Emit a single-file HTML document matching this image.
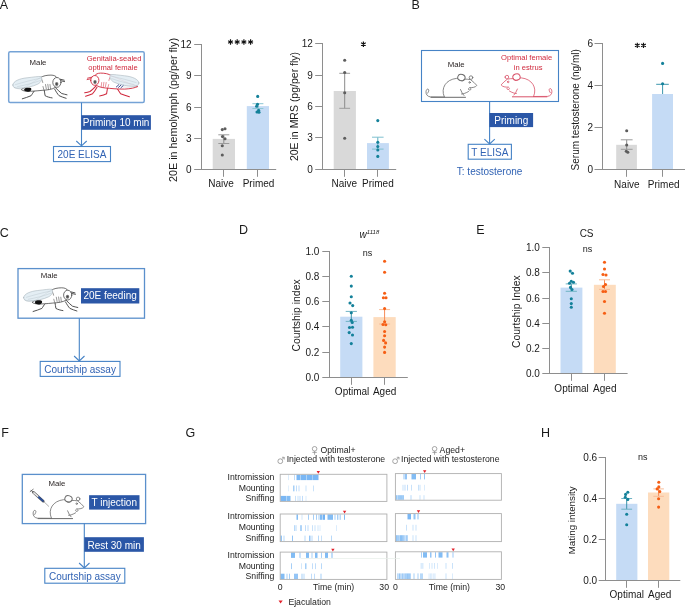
<!DOCTYPE html>
<html><head><meta charset="utf-8"><style>
html,body{margin:0;padding:0;background:#fff;}
body{width:685px;height:607px;overflow:hidden;}
svg{display:block;font-family:"Liberation Sans", sans-serif;will-change:transform;}
</style></head><body>
<svg width="685" height="607" viewBox="0 0 685 607">
<rect width="685" height="607" fill="#fff"/>
<text x="-0.3" y="8.6" font-size="12.5" text-anchor="start" fill="#1a1a1a" >A</text><text x="411.6" y="8.7" font-size="12.5" text-anchor="start" fill="#1a1a1a" >B</text><text x="-0.2" y="236.6" font-size="12.5" text-anchor="start" fill="#1a1a1a" >C</text><text x="238.9" y="233.7" font-size="12.5" text-anchor="start" fill="#1a1a1a" >D</text><text x="476.2" y="233.8" font-size="12.5" text-anchor="start" fill="#1a1a1a" >E</text><text x="1.2" y="437.1" font-size="12.5" text-anchor="start" fill="#1a1a1a" >F</text><text x="185.4" y="437.2" font-size="12.5" text-anchor="start" fill="#1a1a1a" >G</text><text x="541.1" y="437.1" font-size="12.5" text-anchor="start" fill="#1a1a1a" >H</text><rect x="212.7" y="138.9" width="22.3" height="30.5" fill="#d9d9d9" stroke="none" stroke-width="1" /><rect x="246.8" y="106.1" width="22.2" height="63.3" fill="#c5dbf5" stroke="none" stroke-width="1" /><line x1="201.5" y1="44" x2="201.5" y2="170" stroke="#8e8e8e" stroke-width="1.0" /><line x1="201" y1="169.5" x2="276.2" y2="169.5" stroke="#8e8e8e" stroke-width="1.0" /><line x1="194.2" y1="169.5" x2="201.5" y2="169.5" stroke="#8e8e8e" stroke-width="1.0" /><text x="191.6" y="172.9" font-size="10" text-anchor="end" fill="#1a1a1a" >0</text><line x1="194.2" y1="138.5" x2="201.5" y2="138.5" stroke="#8e8e8e" stroke-width="1.0" /><text x="191.6" y="141.7" font-size="10" text-anchor="end" fill="#1a1a1a" >3</text><line x1="194.2" y1="107.5" x2="201.5" y2="107.5" stroke="#8e8e8e" stroke-width="1.0" /><text x="191.6" y="110.5" font-size="10" text-anchor="end" fill="#1a1a1a" >6</text><line x1="194.2" y1="75.5" x2="201.5" y2="75.5" stroke="#8e8e8e" stroke-width="1.0" /><text x="191.6" y="79.3" font-size="10" text-anchor="end" fill="#1a1a1a" >9</text><line x1="194.2" y1="44.5" x2="201.5" y2="44.5" stroke="#8e8e8e" stroke-width="1.0" /><text x="191.6" y="48.1" font-size="10" text-anchor="end" fill="#1a1a1a" >12</text><line x1="223.5" y1="169.5" x2="223.5" y2="176.8" stroke="#8e8e8e" stroke-width="1.0" /><line x1="257.5" y1="169.5" x2="257.5" y2="176.8" stroke="#8e8e8e" stroke-width="1.0" /><text x="221" y="187.3" font-size="10" text-anchor="middle" fill="#1a1a1a" >Naive</text><text x="258.5" y="187.3" font-size="10" text-anchor="middle" fill="#1a1a1a" >Primed</text><text transform="translate(177,110) rotate(-90)" x="0" y="0" font-size="10.8" text-anchor="middle" fill="#1a1a1a">20E in hemolymph (pg/per fly)</text><line x1="223.8" y1="134.8" x2="223.8" y2="143.5" stroke="#8a8a8a" stroke-width="1.0" /><line x1="218.3" y1="134.8" x2="229.3" y2="134.8" stroke="#9a9a9a" stroke-width="1.0" /><line x1="218.3" y1="143.5" x2="229.3" y2="143.5" stroke="#9a9a9a" stroke-width="1.0" /><circle cx="222.3" cy="129.6" r="1.55" fill="#5d5d5d"/><circle cx="225" cy="128.7" r="1.55" fill="#5d5d5d"/><circle cx="222.5" cy="136.6" r="1.55" fill="#5d5d5d"/><circle cx="225" cy="138.8" r="1.55" fill="#5d5d5d"/><circle cx="222.3" cy="145.7" r="1.55" fill="#5d5d5d"/><circle cx="222.3" cy="155" r="1.55" fill="#5d5d5d"/><line x1="257.9" y1="103.7" x2="257.9" y2="108.5" stroke="#6fb6c6" stroke-width="1.0" /><line x1="252.4" y1="103.7" x2="263.4" y2="103.7" stroke="#8cc6d3" stroke-width="1.0" /><line x1="252.4" y1="108.5" x2="263.4" y2="108.5" stroke="#8cc6d3" stroke-width="1.0" /><circle cx="257.7" cy="96.4" r="1.55" fill="#14819a"/><circle cx="257.5" cy="104.2" r="1.55" fill="#14819a"/><circle cx="256.6" cy="106.2" r="1.55" fill="#14819a"/><circle cx="258.6" cy="110.2" r="1.55" fill="#14819a"/><circle cx="257" cy="112" r="1.55" fill="#14819a"/><circle cx="259" cy="112.3" r="1.55" fill="#14819a"/><path d="M230.5,39.3L230.5,44.7M228.16,40.65L232.84,43.35M232.84,40.65L228.16,43.35" stroke="#111" stroke-width="1.15" fill="none"/><path d="M237.2,39.3L237.2,44.7M234.86,40.65L239.54,43.35M239.54,40.65L234.86,43.35" stroke="#111" stroke-width="1.15" fill="none"/><path d="M243.9,39.3L243.9,44.7M241.56,40.65L246.24,43.35M246.24,40.65L241.56,43.35" stroke="#111" stroke-width="1.15" fill="none"/><path d="M250.6,39.3L250.6,44.7M248.26,40.65L252.94,43.35M252.94,40.65L248.26,43.35" stroke="#111" stroke-width="1.15" fill="none"/><rect x="333.7" y="91" width="22.2" height="78.3" fill="#d9d9d9" stroke="none" stroke-width="1" /><rect x="367" y="143.1" width="21.9" height="26.2" fill="#c5dbf5" stroke="none" stroke-width="1" /><line x1="322.5" y1="43" x2="322.5" y2="170" stroke="#8e8e8e" stroke-width="1.0" /><line x1="322" y1="169.5" x2="396.2" y2="169.5" stroke="#8e8e8e" stroke-width="1.0" /><line x1="315.2" y1="169.5" x2="322.5" y2="169.5" stroke="#8e8e8e" stroke-width="1.0" /><text x="312.9" y="172.8" font-size="10" text-anchor="end" fill="#1a1a1a" >0</text><line x1="315.2" y1="137.5" x2="322.5" y2="137.5" stroke="#8e8e8e" stroke-width="1.0" /><text x="312.9" y="141.4" font-size="10" text-anchor="end" fill="#1a1a1a" >3</text><line x1="315.2" y1="106.5" x2="322.5" y2="106.5" stroke="#8e8e8e" stroke-width="1.0" /><text x="312.9" y="110" font-size="10" text-anchor="end" fill="#1a1a1a" >6</text><line x1="315.2" y1="75.5" x2="322.5" y2="75.5" stroke="#8e8e8e" stroke-width="1.0" /><text x="312.9" y="78.6" font-size="10" text-anchor="end" fill="#1a1a1a" >9</text><line x1="315.2" y1="43.5" x2="322.5" y2="43.5" stroke="#8e8e8e" stroke-width="1.0" /><text x="312.9" y="47.2" font-size="10" text-anchor="end" fill="#1a1a1a" >12</text><line x1="344.5" y1="169.5" x2="344.5" y2="176.8" stroke="#8e8e8e" stroke-width="1.0" /><line x1="377.5" y1="169.5" x2="377.5" y2="176.8" stroke="#8e8e8e" stroke-width="1.0" /><text x="344.3" y="187.3" font-size="10" text-anchor="middle" fill="#1a1a1a" >Naive</text><text x="377.9" y="187.3" font-size="10" text-anchor="middle" fill="#1a1a1a" >Primed</text><text transform="translate(297.8,106.5) rotate(-90)" x="0" y="0" font-size="10.5" text-anchor="middle" fill="#1a1a1a">20E in MRS (pg/per fly)</text><line x1="344.7" y1="73.3" x2="344.7" y2="108.3" stroke="#8a8a8a" stroke-width="1.0" /><line x1="339.3" y1="73.3" x2="350.1" y2="73.3" stroke="#9a9a9a" stroke-width="1.0" /><line x1="339.3" y1="108.3" x2="350.1" y2="108.3" stroke="#9a9a9a" stroke-width="1.0" /><circle cx="344.7" cy="60.2" r="1.55" fill="#5d5d5d"/><circle cx="344.7" cy="72.5" r="1.55" fill="#5d5d5d"/><circle cx="344.7" cy="92.8" r="1.55" fill="#5d5d5d"/><circle cx="344.7" cy="138.3" r="1.55" fill="#5d5d5d"/><line x1="377.8" y1="137.2" x2="377.8" y2="149.1" stroke="#5aaec0" stroke-width="1.0" /><line x1="372" y1="137.2" x2="383.6" y2="137.2" stroke="#7fc0cf" stroke-width="1.0" /><line x1="372" y1="149.1" x2="383.6" y2="149.1" stroke="#7fc0cf" stroke-width="1.0" /><circle cx="377.8" cy="120.6" r="1.55" fill="#14819a"/><circle cx="377.8" cy="142.3" r="1.55" fill="#14819a"/><circle cx="377.8" cy="146.5" r="1.55" fill="#14819a"/><circle cx="377.8" cy="150" r="1.55" fill="#14819a"/><circle cx="377.8" cy="156.4" r="1.55" fill="#14819a"/><path d="M363.4,41.5L363.4,46.9M361.06,42.85L365.74,45.55M365.74,42.85L361.06,45.55" stroke="#111" stroke-width="1.15" fill="none"/><rect x="616.2" y="144.8" width="20.7" height="24.6" fill="#d9d9d9" stroke="none" stroke-width="1" /><rect x="652.1" y="94" width="20.9" height="75.4" fill="#c5dbf5" stroke="none" stroke-width="1" /><line x1="602.5" y1="43" x2="602.5" y2="170" stroke="#8e8e8e" stroke-width="1.0" /><line x1="602" y1="169.5" x2="685" y2="169.5" stroke="#8e8e8e" stroke-width="1.0" /><line x1="594.5" y1="169.5" x2="602.5" y2="169.5" stroke="#8e8e8e" stroke-width="1.0" /><text x="593" y="172.9" font-size="10" text-anchor="end" fill="#1a1a1a" >0</text><line x1="594.5" y1="127.5" x2="602.5" y2="127.5" stroke="#8e8e8e" stroke-width="1.0" /><text x="593" y="131" font-size="10" text-anchor="end" fill="#1a1a1a" >2</text><line x1="594.5" y1="85.5" x2="602.5" y2="85.5" stroke="#8e8e8e" stroke-width="1.0" /><text x="593" y="89.1" font-size="10" text-anchor="end" fill="#1a1a1a" >4</text><line x1="594.5" y1="43.5" x2="602.5" y2="43.5" stroke="#8e8e8e" stroke-width="1.0" /><text x="593" y="47.2" font-size="10" text-anchor="end" fill="#1a1a1a" >6</text><line x1="626.5" y1="169.5" x2="626.5" y2="176.8" stroke="#8e8e8e" stroke-width="1.0" /><line x1="662.5" y1="169.5" x2="662.5" y2="176.8" stroke="#8e8e8e" stroke-width="1.0" /><text x="626.9" y="187.6" font-size="10" text-anchor="middle" fill="#1a1a1a" >Naive</text><text x="663.7" y="187.6" font-size="10" text-anchor="middle" fill="#1a1a1a" >Primed</text><text transform="translate(579,109.8) rotate(-90)" x="0" y="0" font-size="10.0" text-anchor="middle" fill="#1a1a1a">Serum testosterone (ng/ml)</text><line x1="626.7" y1="139.8" x2="626.7" y2="149.3" stroke="#8a8a8a" stroke-width="1.0" /><line x1="620.8" y1="139.8" x2="632.6" y2="139.8" stroke="#9a9a9a" stroke-width="1.0" /><line x1="620.8" y1="149.3" x2="632.6" y2="149.3" stroke="#9a9a9a" stroke-width="1.0" /><circle cx="626.7" cy="130.8" r="1.55" fill="#5d5d5d"/><circle cx="626.7" cy="145" r="1.55" fill="#5d5d5d"/><circle cx="626.3" cy="151.3" r="1.55" fill="#5d5d5d"/><circle cx="627.8" cy="152.3" r="1.55" fill="#5d5d5d"/><line x1="662.6" y1="84.3" x2="662.6" y2="94" stroke="#3d97ad" stroke-width="1.0" /><line x1="656.2" y1="84.3" x2="668.8" y2="84.3" stroke="#3d97ad" stroke-width="1.0" /><circle cx="662.6" cy="63.4" r="1.55" fill="#14819a"/><circle cx="662.6" cy="83.8" r="1.55" fill="#14819a"/><path d="M637.3,42.7L637.3,48.1M634.96,44.05L639.64,46.75M639.64,44.05L634.96,46.75" stroke="#111" stroke-width="1.15" fill="none"/><path d="M643.5,42.7L643.5,48.1M641.16,44.05L645.84,46.75M645.84,44.05L641.16,46.75" stroke="#111" stroke-width="1.15" fill="none"/><rect x="340.2" y="316.7" width="22.2" height="60.4" fill="#c5dbf5" stroke="none" stroke-width="1" /><rect x="373.4" y="317.1" width="22.3" height="60" fill="#fddcbd" stroke="none" stroke-width="1" /><line x1="329.5" y1="251" x2="329.5" y2="378" stroke="#8e8e8e" stroke-width="1.0" /><line x1="329" y1="377.5" x2="407.8" y2="377.5" stroke="#8e8e8e" stroke-width="1.0" /><line x1="322.3" y1="377.5" x2="329.5" y2="377.5" stroke="#8e8e8e" stroke-width="1.0" /><text x="319.3" y="380.6" font-size="10" text-anchor="end" fill="#1a1a1a" >0.0</text><line x1="322.3" y1="352.5" x2="329.5" y2="352.5" stroke="#8e8e8e" stroke-width="1.0" /><text x="319.3" y="355.52" font-size="10" text-anchor="end" fill="#1a1a1a" >0.2</text><line x1="322.3" y1="326.5" x2="329.5" y2="326.5" stroke="#8e8e8e" stroke-width="1.0" /><text x="319.3" y="330.44" font-size="10" text-anchor="end" fill="#1a1a1a" >0.4</text><line x1="322.3" y1="301.5" x2="329.5" y2="301.5" stroke="#8e8e8e" stroke-width="1.0" /><text x="319.3" y="305.36" font-size="10" text-anchor="end" fill="#1a1a1a" >0.6</text><line x1="322.3" y1="276.5" x2="329.5" y2="276.5" stroke="#8e8e8e" stroke-width="1.0" /><text x="319.3" y="280.28" font-size="10" text-anchor="end" fill="#1a1a1a" >0.8</text><line x1="322.3" y1="251.5" x2="329.5" y2="251.5" stroke="#8e8e8e" stroke-width="1.0" /><text x="319.3" y="255.2" font-size="10" text-anchor="end" fill="#1a1a1a" >1.0</text><line x1="351.5" y1="377.5" x2="351.5" y2="384.8" stroke="#8e8e8e" stroke-width="1.0" /><line x1="384.5" y1="377.5" x2="384.5" y2="384.8" stroke="#8e8e8e" stroke-width="1.0" /><text x="352.1" y="394.7" font-size="10" text-anchor="middle" fill="#1a1a1a" >Optimal</text><text x="384.6" y="394.7" font-size="10" text-anchor="middle" fill="#1a1a1a" >Aged</text><text transform="translate(300.2,315.5) rotate(-90)" x="0" y="0" font-size="10.4" text-anchor="middle" fill="#1a1a1a">Courtship index</text><line x1="351.3" y1="311.4" x2="351.3" y2="321.4" stroke="#3a93aa" stroke-width="1.0" /><line x1="345.7" y1="311.4" x2="356.9" y2="311.4" stroke="#6fb3c4" stroke-width="1.0" /><line x1="345.7" y1="321.4" x2="356.9" y2="321.4" stroke="#6fb3c4" stroke-width="1.0" /><circle cx="351.3" cy="276.2" r="1.55" fill="#14819a"/><circle cx="351.3" cy="286.1" r="1.55" fill="#14819a"/><circle cx="351.3" cy="296.8" r="1.55" fill="#14819a"/><circle cx="350" cy="303" r="1.55" fill="#14819a"/><circle cx="352.7" cy="305.6" r="1.55" fill="#14819a"/><circle cx="351.3" cy="312.8" r="1.55" fill="#14819a"/><circle cx="351.3" cy="320.3" r="1.55" fill="#14819a"/><circle cx="352.2" cy="322.5" r="1.55" fill="#14819a"/><circle cx="349.5" cy="327.5" r="1.55" fill="#14819a"/><circle cx="352.5" cy="327.2" r="1.55" fill="#14819a"/><circle cx="349.2" cy="332.6" r="1.55" fill="#14819a"/><circle cx="352.5" cy="335" r="1.55" fill="#14819a"/><circle cx="351.3" cy="343.6" r="1.55" fill="#14819a"/><line x1="384.6" y1="309.6" x2="384.6" y2="324" stroke="#f68a55" stroke-width="1.0" /><line x1="379.1" y1="309.6" x2="390.1" y2="309.6" stroke="#f9bc98" stroke-width="1.0" /><line x1="379.1" y1="324" x2="390.1" y2="324" stroke="#f9bc98" stroke-width="1.0" /><circle cx="384.6" cy="261.3" r="1.55" fill="#f65e14"/><circle cx="384.6" cy="272.3" r="1.55" fill="#f65e14"/><circle cx="384.6" cy="293.3" r="1.55" fill="#f65e14"/><circle cx="383.4" cy="297.7" r="1.55" fill="#f65e14"/><circle cx="386" cy="297.7" r="1.55" fill="#f65e14"/><circle cx="384.6" cy="308.6" r="1.55" fill="#f65e14"/><circle cx="384.6" cy="321.8" r="1.55" fill="#f65e14"/><circle cx="383" cy="324.5" r="1.55" fill="#f65e14"/><circle cx="385.8" cy="324.7" r="1.55" fill="#f65e14"/><circle cx="384.6" cy="331.5" r="1.55" fill="#f65e14"/><circle cx="384.6" cy="335.8" r="1.55" fill="#f65e14"/><circle cx="383.6" cy="340.4" r="1.55" fill="#f65e14"/><circle cx="385.6" cy="342.9" r="1.55" fill="#f65e14"/><circle cx="384.6" cy="347.1" r="1.55" fill="#f65e14"/><circle cx="384.6" cy="352.4" r="1.55" fill="#f65e14"/><text x="359.6" y="237.6" font-size="10" font-style="italic" fill="#1a1a1a">w<tspan font-size="6" dy="-3.6">1118</tspan></text><text x="367.5" y="255.6" font-size="9" text-anchor="middle" fill="#1a1a1a" >ns</text><rect x="560.5" y="287.6" width="21.9" height="86.1" fill="#c5dbf5" stroke="none" stroke-width="1" /><rect x="593.9" y="284.8" width="21.9" height="88.9" fill="#fddcbd" stroke="none" stroke-width="1" /><line x1="549.5" y1="247" x2="549.5" y2="374" stroke="#8e8e8e" stroke-width="1.0" /><line x1="549" y1="373.5" x2="627.6" y2="373.5" stroke="#8e8e8e" stroke-width="1.0" /><line x1="542.3" y1="373.5" x2="549.5" y2="373.5" stroke="#8e8e8e" stroke-width="1.0" /><text x="539.8" y="377.2" font-size="10" text-anchor="end" fill="#1a1a1a" >0.0</text><line x1="542.3" y1="348.5" x2="549.5" y2="348.5" stroke="#8e8e8e" stroke-width="1.0" /><text x="539.8" y="352.02" font-size="10" text-anchor="end" fill="#1a1a1a" >0.2</text><line x1="542.3" y1="323.5" x2="549.5" y2="323.5" stroke="#8e8e8e" stroke-width="1.0" /><text x="539.8" y="326.84" font-size="10" text-anchor="end" fill="#1a1a1a" >0.4</text><line x1="542.3" y1="298.5" x2="549.5" y2="298.5" stroke="#8e8e8e" stroke-width="1.0" /><text x="539.8" y="301.66" font-size="10" text-anchor="end" fill="#1a1a1a" >0.6</text><line x1="542.3" y1="272.5" x2="549.5" y2="272.5" stroke="#8e8e8e" stroke-width="1.0" /><text x="539.8" y="276.48" font-size="10" text-anchor="end" fill="#1a1a1a" >0.8</text><line x1="542.3" y1="247.5" x2="549.5" y2="247.5" stroke="#8e8e8e" stroke-width="1.0" /><text x="539.8" y="251.3" font-size="10" text-anchor="end" fill="#1a1a1a" >1.0</text><line x1="571.5" y1="373.5" x2="571.5" y2="380.8" stroke="#8e8e8e" stroke-width="1.0" /><line x1="604.5" y1="373.5" x2="604.5" y2="380.8" stroke="#8e8e8e" stroke-width="1.0" /><text x="571.6" y="391.7" font-size="10" text-anchor="middle" fill="#1a1a1a" >Optimal</text><text x="604.8" y="391.7" font-size="10" text-anchor="middle" fill="#1a1a1a" >Aged</text><text transform="translate(520.3,311.6) rotate(-90)" x="0" y="0" font-size="10.4" text-anchor="middle" fill="#1a1a1a">Courtship Index</text><line x1="571.3" y1="283.9" x2="571.3" y2="291.3" stroke="#3a93aa" stroke-width="1.0" /><line x1="565.7" y1="283.9" x2="576.9" y2="283.9" stroke="#6fb3c4" stroke-width="1.0" /><line x1="565.7" y1="291.3" x2="576.9" y2="291.3" stroke="#6fb3c4" stroke-width="1.0" /><circle cx="570.2" cy="271.1" r="1.55" fill="#14819a"/><circle cx="572.5" cy="273.3" r="1.55" fill="#14819a"/><circle cx="571.3" cy="281.2" r="1.55" fill="#14819a"/><circle cx="569.5" cy="283.3" r="1.55" fill="#14819a"/><circle cx="573.5" cy="282.3" r="1.55" fill="#14819a"/><circle cx="570.5" cy="287.4" r="1.55" fill="#14819a"/><circle cx="572" cy="289.5" r="1.55" fill="#14819a"/><circle cx="571.3" cy="298.8" r="1.55" fill="#14819a"/><circle cx="571.3" cy="303.6" r="1.55" fill="#14819a"/><circle cx="571.3" cy="307.3" r="1.55" fill="#14819a"/><line x1="604.5" y1="279.8" x2="604.5" y2="289.4" stroke="#f68a55" stroke-width="1.0" /><line x1="599" y1="279.8" x2="610" y2="279.8" stroke="#f9bc98" stroke-width="1.0" /><line x1="599" y1="289.4" x2="610" y2="289.4" stroke="#f9bc98" stroke-width="1.0" /><circle cx="604.5" cy="262.3" r="1.55" fill="#f65e14"/><circle cx="604.5" cy="269" r="1.55" fill="#f65e14"/><circle cx="603" cy="274.5" r="1.55" fill="#f65e14"/><circle cx="606" cy="275" r="1.55" fill="#f65e14"/><circle cx="605.5" cy="284.5" r="1.55" fill="#f65e14"/><circle cx="603.5" cy="286.5" r="1.55" fill="#f65e14"/><circle cx="603" cy="291.5" r="1.55" fill="#f65e14"/><circle cx="605.5" cy="291.5" r="1.55" fill="#f65e14"/><circle cx="604.5" cy="301.5" r="1.55" fill="#f65e14"/><circle cx="604.5" cy="313.3" r="1.55" fill="#f65e14"/><text x="586.6" y="236.9" font-size="10" text-anchor="middle" fill="#1a1a1a" >CS</text><text x="587.6" y="252.4" font-size="9" text-anchor="middle" fill="#1a1a1a" >ns</text><rect x="616.2" y="503.8" width="21.2" height="76.5" fill="#c5dbf5" stroke="none" stroke-width="1" /><rect x="648" y="492.5" width="21.3" height="87.8" fill="#fddcbd" stroke="none" stroke-width="1" /><line x1="605.5" y1="457" x2="605.5" y2="581" stroke="#8e8e8e" stroke-width="1.0" /><line x1="605" y1="580.5" x2="680.3" y2="580.5" stroke="#8e8e8e" stroke-width="1.0" /><line x1="598.7" y1="580.5" x2="605.5" y2="580.5" stroke="#8e8e8e" stroke-width="1.0" /><text x="597.2" y="583.8" font-size="10" text-anchor="end" fill="#1a1a1a" >0.0</text><line x1="598.7" y1="539.5" x2="605.5" y2="539.5" stroke="#8e8e8e" stroke-width="1.0" /><text x="597.2" y="542.73" font-size="10" text-anchor="end" fill="#1a1a1a" >0.2</text><line x1="598.7" y1="498.5" x2="605.5" y2="498.5" stroke="#8e8e8e" stroke-width="1.0" /><text x="597.2" y="501.66" font-size="10" text-anchor="end" fill="#1a1a1a" >0.4</text><line x1="598.7" y1="457.5" x2="605.5" y2="457.5" stroke="#8e8e8e" stroke-width="1.0" /><text x="597.2" y="460.59" font-size="10" text-anchor="end" fill="#1a1a1a" >0.6</text><line x1="626.5" y1="580.5" x2="626.5" y2="587.8" stroke="#8e8e8e" stroke-width="1.0" /><line x1="658.5" y1="580.5" x2="658.5" y2="587.8" stroke="#8e8e8e" stroke-width="1.0" /><text x="626.8" y="597.8" font-size="10" text-anchor="middle" fill="#1a1a1a" >Optimal</text><text x="659.7" y="597.8" font-size="10" text-anchor="middle" fill="#1a1a1a" >Aged</text><text transform="translate(575.4,520.3) rotate(-90)" x="0" y="0" font-size="9.8" text-anchor="middle" fill="#1a1a1a">Mating intensity</text><line x1="626.7" y1="498.5" x2="626.7" y2="509.2" stroke="#3a93aa" stroke-width="1.0" /><line x1="621.3" y1="498.5" x2="632.1" y2="498.5" stroke="#6fb3c4" stroke-width="1.0" /><line x1="621.3" y1="509.2" x2="632.1" y2="509.2" stroke="#6fb3c4" stroke-width="1.0" /><circle cx="627.8" cy="492.3" r="1.55" fill="#14819a"/><circle cx="625.6" cy="494.4" r="1.55" fill="#14819a"/><circle cx="625.3" cy="497.3" r="1.55" fill="#14819a"/><circle cx="627.8" cy="499.4" r="1.55" fill="#14819a"/><circle cx="626.7" cy="514.3" r="1.55" fill="#14819a"/><circle cx="626.7" cy="524.7" r="1.55" fill="#14819a"/><line x1="658.6" y1="488.9" x2="658.6" y2="496.3" stroke="#f68a55" stroke-width="1.0" /><line x1="653.3" y1="488.9" x2="663.9" y2="488.9" stroke="#f9bc98" stroke-width="1.0" /><line x1="653.3" y1="496.3" x2="663.9" y2="496.3" stroke="#f9bc98" stroke-width="1.0" /><circle cx="658.8" cy="482.3" r="1.55" fill="#f65e14"/><circle cx="658.8" cy="486.9" r="1.55" fill="#f65e14"/><circle cx="657.2" cy="488.9" r="1.55" fill="#f65e14"/><circle cx="659.8" cy="491.6" r="1.55" fill="#f65e14"/><circle cx="658.6" cy="498.8" r="1.55" fill="#f65e14"/><circle cx="658.6" cy="507.1" r="1.55" fill="#f65e14"/><text x="642.7" y="460.3" font-size="9" text-anchor="middle" fill="#1a1a1a" >ns</text><rect x="8.7" y="51.8" width="135.5" height="50.8" fill="none" stroke="#75a3d6" stroke-width="1.5" rx="1.5"/><g transform="translate(0,0)" fill="none" stroke-linecap="round" stroke-linejoin="round"><path d="M34.6,90.5 C33,92.5 32,94.5 31.1,95.7 C28,97 25,98 22.3,98.8 M44.2,90 C44.5,92 44.8,94 45.1,95.7 C47,96.8 49.5,97.5 52.1,97.9 M54.7,89.2 C56,91.5 57.5,94 59.1,95.7 C61.5,96.8 63.8,97.6 66.1,98.3 M55.6,87.8 C57.5,89.8 59.5,91.8 61.7,93.5 C63.5,94 65.2,94.4 67,94.8" stroke="#333" stroke-width="0.85"/><path d="M40.3,77.6 C43,75.8 47,75.1 51,75.1 C54,75.2 56,76 57,77.8 L57,86 C55,88.2 51,89.6 46,90 C41,90.4 35,91.2 29,91.3 C25,91.3 22.5,90.8 21.5,89.8 Z" fill="#fff" stroke="#333" stroke-width="0.7"/><path d="M40.3,77.6 C41.5,78.8 42.5,80.5 42.8,82.5 M45.5,84.5 L46.3,88.8 M47.8,84.3 L48.5,89.2 M50,84.5 L50.5,88.6 M43,86.5 L43.8,89.5" stroke="#333" stroke-width="0.5"/><path d="M12.8,85 C13,81 20,78.5 27,77.8 C33,77.2 38.5,76.1 41.3,76.6 C42.6,79.2 41.2,82.2 38,84 C33,86.5 25,88.3 18,88.3 C14.5,88.2 12.8,87 12.8,85 Z" fill="#e2edf3" fill-opacity="0.92" stroke="#a4b0b8" stroke-width="0.55"/><path d="M14,87.6 C17,89.2 23,89.6 29,88.9 M15.5,84.6 C23,82.3 31,80.2 40.5,78.2 M17.5,86.6 C25,85.2 33,83.2 40,80.6" stroke="#b3c0c8" stroke-width="0.4"/><path d="M24.2,89 C25,87.6 28.5,87.3 30.8,88 C31.8,88.8 31.4,90.8 29.5,91.5 C27.5,92.1 25,91.6 24.3,90.6 Z" fill="#111" stroke="none"/><ellipse cx="56.9" cy="82.4" rx="4.1" ry="4.9" fill="#fff" stroke="#333" stroke-width="0.7"/><ellipse cx="56.7" cy="84" rx="1.7" ry="2.0" fill="#7a7a7a" stroke="none"/><ellipse cx="56.7" cy="84" rx="0.8" ry="0.9" fill="#444" stroke="none"/><path d="M60.2,79.2 L64.2,80.2 M61,80.8 L64.6,81.6" stroke="#333" stroke-width="0.85"/></g><g transform="translate(151.7,-2) scale(-1,1)" fill="none" stroke-linecap="round" stroke-linejoin="round"><path d="M34.6,90.5 C33,92.5 32,94.5 31.1,95.7 C28,97 25,98 22.3,98.8 M44.2,90 C44.5,92 44.8,94 45.1,95.7 C47,96.8 49.5,97.5 52.1,97.9 M54.7,89.2 C56,91.5 57.5,94 59.1,95.7 C61.5,96.8 63.8,97.6 66.1,98.3 M55.6,87.8 C57.5,89.8 59.5,91.8 61.7,93.5 C63.5,94 65.2,94.4 67,94.8" stroke="#d0293d" stroke-width="1.05"/><path d="M40.3,77.6 C43,75.8 47,75.1 51,75.1 C54,75.2 56,76 57,77.8 L57,86 C55,88.2 51,89.6 46,90 C41,90.4 35,91.2 27,91.1 C21,90.8 17,89.8 14,88.6 L20,86.5 Z" fill="#fff" stroke="#d0293d" stroke-width="0.9"/><path d="M40.3,77.6 C41.5,78.8 42.5,80.5 42.8,82.5 M45.5,84.5 L46.3,88.8 M47.8,84.3 L48.5,89.2 M50,84.5 L50.5,88.6 M43,86.5 L43.8,89.5" stroke="#d0293d" stroke-width="0.5"/><path d="M12.8,85 C13,81 20,78.5 27,77.8 C33,77.2 38.5,76.1 41.3,76.6 C42.6,79.2 41.2,82.2 38,84 C33,86.5 25,88.3 18,88.3 C14.5,88.2 12.8,87 12.8,85 Z" fill="#e2edf3" fill-opacity="0.92" stroke="#a4b0b8" stroke-width="0.55"/><path d="M14,87.6 C17,89.2 23,89.6 29,88.9 M15.5,84.6 C23,82.3 31,80.2 40.5,78.2 M17.5,86.6 C25,85.2 33,83.2 40,80.6" stroke="#b3c0c8" stroke-width="0.4"/><path d="M28.5,87.6 L30.8,89.8 M30.8,87.2 L33.2,89.4 M33,86.8 L35.4,89" stroke="#2b3f8a" stroke-width="0.9"/><ellipse cx="56.9" cy="82.4" rx="4.1" ry="4.9" fill="#fff" stroke="#d0293d" stroke-width="0.9"/><ellipse cx="56.7" cy="84" rx="1.7" ry="2.0" fill="#7a7a7a" stroke="none"/><ellipse cx="56.7" cy="84" rx="0.8" ry="0.9" fill="#444" stroke="none"/><path d="M60.2,79.2 L64.2,80.2 M61,80.8 L64.6,81.6" stroke="#d0293d" stroke-width="0.85"/></g><text x="38" y="64.6" font-size="7.8" text-anchor="middle" fill="#2b2525" >Male</text><text x="114.1" y="61" font-size="7.6" text-anchor="middle" fill="#d0293d" >Genitalia-sealed</text><text x="113" y="70.2" font-size="7.6" text-anchor="middle" fill="#d0293d" >optimal female</text><line x1="81.5" y1="102.6" x2="81.5" y2="145.6" stroke="#4683c6" stroke-width="1.1" /><path d="M76.3,141 L81.5,145.8 L86.7,141" fill="none" stroke="#4683c6" stroke-width="1.1"/><rect x="81.3" y="115.2" width="69.6" height="14.6" fill="#2b57a7" stroke="none" stroke-width="1" /><text x="116.1" y="126" font-size="10" text-anchor="middle" fill="#fff" >Priming 10 min</text><rect x="53.5" y="146.5" width="57" height="15.1" fill="#fff" stroke="#4683c6" stroke-width="1.1" /><text x="82" y="157.9" font-size="10" text-anchor="middle" fill="#3163b4" >20E ELISA</text><rect x="421.5" y="50.5" width="137" height="51" fill="none" stroke="#4683c6" stroke-width="1.1" /><g transform="translate(0,0)" fill="none" stroke="#6b6b6b" stroke-width="0.8" stroke-linecap="round" stroke-linejoin="round"><path d="M444.2,96.6 C440.5,88 446,79.5 456.5,78.4 C458.5,78.2 460.5,78.8 462,79.6"/><path d="M463.5,79.2 C466,79.2 468.5,79 470.5,79.6 C472.8,81.3 475,83.3 476.8,85.4 C475.5,87.3 472.5,87.8 469.5,87.6 C468.5,88.3 468,89.3 469,90 C470.5,90.3 471.5,89.5 470.8,88.5"/><ellipse cx="461.4" cy="77.6" rx="3.7" ry="3.2" transform="rotate(20 461.4 77.6)" fill="#fff" stroke-width="1.0"/><path d="M459.5,80.2 C461.5,81.2 463.8,80.6 464.6,79"/><circle cx="471" cy="77.6" r="1.8" fill="#fff"/><circle cx="469.6" cy="82.4" r="0.75"/><path d="M460.5,89.5 L462.3,93.3 L464,95.5 M461.5,94 C463.5,94 466,93 468.5,91.5"/><path d="M444.5,97 L430.5,96.9 C427.5,96.6 425.8,94.5 426,91.7 C426.2,89.6 427.3,88.6 428.3,89.3 C429.5,90.2 428.2,92.3 427.6,93.2"/><path d="M431,97.3 L465.5,97.3" stroke-width="1.0"/></g><g transform="translate(977.9,-0.5) scale(-1,1)" fill="none" stroke="#d9536a" stroke-width="0.8" stroke-linecap="round" stroke-linejoin="round"><path d="M444.2,96.6 C440.5,88 446,79.5 456.5,78.4 C458.5,78.2 460.5,78.8 462,79.6"/><path d="M463.5,79.2 C466,79.2 468.5,79 470.5,79.6 C472.8,81.3 475,83.3 476.8,85.4 C475.5,87.3 472.5,87.8 469.5,87.6 C468.5,88.3 468,89.3 469,90 C470.5,90.3 471.5,89.5 470.8,88.5"/><ellipse cx="461.4" cy="77.6" rx="3.7" ry="3.2" transform="rotate(20 461.4 77.6)" fill="#fff" stroke-width="1.0"/><path d="M459.5,80.2 C461.5,81.2 463.8,80.6 464.6,79"/><circle cx="471" cy="77.6" r="1.8" fill="#fff"/><circle cx="469.6" cy="82.4" r="0.75"/><path d="M460.5,89.5 L462.3,93.3 L464,95.5 M461.5,94 C463.5,94 466,93 468.5,91.5"/><path d="M444.5,97 L430.5,96.9 C427.5,96.6 425.8,94.5 426,91.7 C426.2,89.6 427.3,88.6 428.3,89.3 C429.5,90.2 428.2,92.3 427.6,93.2"/><path d="M431,97.3 L465.5,97.3" stroke-width="1.0"/></g><text x="456.1" y="66.9" font-size="7.8" text-anchor="middle" fill="#2b2525" >Male</text><text x="526.6" y="60.4" font-size="7.6" text-anchor="middle" fill="#d0293d" >Optimal female</text><text x="528.1" y="69.5" font-size="7.6" text-anchor="middle" fill="#d0293d" >in estrus</text><line x1="489.6" y1="101" x2="489.6" y2="143.8" stroke="#4683c6" stroke-width="1.1" /><path d="M484.4,139.2 L489.6,144 L494.8,139.2" fill="none" stroke="#4683c6" stroke-width="1.1"/><rect x="489.4" y="113" width="43.7" height="14.1" fill="#2b57a7" stroke="none" stroke-width="1" /><text x="511.3" y="123.7" font-size="10" text-anchor="middle" fill="#fff" >Priming</text><rect x="468.2" y="144.3" width="43.2" height="14.9" fill="#fff" stroke="#4683c6" stroke-width="1.1" /><text x="489.8" y="155.5" font-size="10" text-anchor="middle" fill="#3163b4" >T ELISA</text><text x="489.6" y="175" font-size="10" text-anchor="middle" fill="#3163b4" >T: testosterone</text><rect x="18" y="268.6" width="126.5" height="49.6" fill="none" stroke="#5b90cc" stroke-width="1.3" /><g transform="translate(10.8,212.7)" fill="none" stroke-linecap="round" stroke-linejoin="round"><path d="M34.6,90.5 C33,92.5 32,94.5 31.1,95.7 C28,97 25,98 22.3,98.8 M44.2,90 C44.5,92 44.8,94 45.1,95.7 C47,96.8 49.5,97.5 52.1,97.9 M54.7,89.2 C56,91.5 57.5,94 59.1,95.7 C61.5,96.8 63.8,97.6 66.1,98.3 M55.6,87.8 C57.5,89.8 59.5,91.8 61.7,93.5 C63.5,94 65.2,94.4 67,94.8" stroke="#333" stroke-width="0.85"/><path d="M40.3,77.6 C43,75.8 47,75.1 51,75.1 C54,75.2 56,76 57,77.8 L57,86 C55,88.2 51,89.6 46,90 C41,90.4 35,91.2 29,91.3 C25,91.3 22.5,90.8 21.5,89.8 Z" fill="#fff" stroke="#333" stroke-width="0.7"/><path d="M40.3,77.6 C41.5,78.8 42.5,80.5 42.8,82.5 M45.5,84.5 L46.3,88.8 M47.8,84.3 L48.5,89.2 M50,84.5 L50.5,88.6 M43,86.5 L43.8,89.5" stroke="#333" stroke-width="0.5"/><path d="M12.8,85 C13,81 20,78.5 27,77.8 C33,77.2 38.5,76.1 41.3,76.6 C42.6,79.2 41.2,82.2 38,84 C33,86.5 25,88.3 18,88.3 C14.5,88.2 12.8,87 12.8,85 Z" fill="#e2edf3" fill-opacity="0.92" stroke="#a4b0b8" stroke-width="0.55"/><path d="M14,87.6 C17,89.2 23,89.6 29,88.9 M15.5,84.6 C23,82.3 31,80.2 40.5,78.2 M17.5,86.6 C25,85.2 33,83.2 40,80.6" stroke="#b3c0c8" stroke-width="0.4"/><path d="M24.2,89 C25,87.6 28.5,87.3 30.8,88 C31.8,88.8 31.4,90.8 29.5,91.5 C27.5,92.1 25,91.6 24.3,90.6 Z" fill="#111" stroke="none"/><ellipse cx="56.9" cy="82.4" rx="4.1" ry="4.9" fill="#fff" stroke="#333" stroke-width="0.7"/><ellipse cx="56.7" cy="84" rx="1.7" ry="2.0" fill="#7a7a7a" stroke="none"/><ellipse cx="56.7" cy="84" rx="0.8" ry="0.9" fill="#444" stroke="none"/><path d="M60.2,79.2 L64.2,80.2 M61,80.8 L64.6,81.6" stroke="#333" stroke-width="0.85"/></g><text x="49.2" y="278.1" font-size="7.8" text-anchor="middle" fill="#2b2525" >Male</text><rect x="81" y="288.2" width="58.3" height="15.3" fill="#2b57a7" stroke="none" stroke-width="1" /><text x="110.1" y="299.4" font-size="10" text-anchor="middle" fill="#fff" >20E feeding</text><line x1="79.3" y1="318.2" x2="79.3" y2="361" stroke="#4683c6" stroke-width="1.1" /><path d="M74.1,356 L79.3,361 L84.5,356" fill="none" stroke="#4683c6" stroke-width="1.1"/><rect x="40.2" y="361.4" width="79.8" height="15" fill="#fff" stroke="#4683c6" stroke-width="1.1" /><text x="80.1" y="372.6" font-size="10" text-anchor="middle" fill="#3163b4" >Courtship assay</text><rect x="22.3" y="474.4" width="123.3" height="49.2" fill="none" stroke="#5b90cc" stroke-width="1.3" /><g transform="translate(-392.9,421.3)" fill="none" stroke="#6b6b6b" stroke-width="0.8" stroke-linecap="round" stroke-linejoin="round"><path d="M444.2,96.6 C440.5,88 446,79.5 456.5,78.4 C458.5,78.2 460.5,78.8 462,79.6"/><path d="M463.5,79.2 C466,79.2 468.5,79 470.5,79.6 C472.8,81.3 475,83.3 476.8,85.4 C475.5,87.3 472.5,87.8 469.5,87.6 C468.5,88.3 468,89.3 469,90 C470.5,90.3 471.5,89.5 470.8,88.5"/><ellipse cx="461.4" cy="77.6" rx="3.7" ry="3.2" transform="rotate(20 461.4 77.6)" fill="#fff" stroke-width="1.0"/><path d="M459.5,80.2 C461.5,81.2 463.8,80.6 464.6,79"/><circle cx="471" cy="77.6" r="1.8" fill="#fff"/><circle cx="469.6" cy="82.4" r="0.75"/><path d="M460.5,89.5 L462.3,93.3 L464,95.5 M461.5,94 C463.5,94 466,93 468.5,91.5"/><path d="M444.5,97 L430.5,96.9 C427.5,96.6 425.8,94.5 426,91.7 C426.2,89.6 427.3,88.6 428.3,89.3 C429.5,90.2 428.2,92.3 427.6,93.2"/><path d="M431,97.3 L465.5,97.3" stroke-width="1.0"/></g><g stroke-linecap="round"><line x1="39" y1="497" x2="48.7" y2="506.3" stroke="#777" stroke-width="0.6"/><line x1="33.3" y1="492.3" x2="43.3" y2="501.2" stroke="#555" stroke-width="2.6"/><line x1="33.6" y1="492.6" x2="38.6" y2="497" stroke="#e8e8e8" stroke-width="1.6"/><line x1="38.8" y1="497.1" x2="42.9" y2="500.8" stroke="#2a4f9e" stroke-width="1.8"/><line x1="30.2" y1="491.6" x2="33.2" y2="489.3" stroke="#555" stroke-width="0.8"/><line x1="31" y1="490.2" x2="33" y2="492.2" stroke="#555" stroke-width="0.8"/></g><text x="56.9" y="485.7" font-size="7.8" text-anchor="middle" fill="#2b2525" >Male</text><rect x="89.1" y="495.2" width="50.4" height="14.4" fill="#2b57a7" stroke="none" stroke-width="1" /><text x="114.3" y="506.1" font-size="10" text-anchor="middle" fill="#fff" >T injection</text><line x1="84.3" y1="523.6" x2="84.3" y2="568" stroke="#4683c6" stroke-width="1.1" /><rect x="84.3" y="537.2" width="59.6" height="14.6" fill="#2b57a7" stroke="none" stroke-width="1" /><text x="114.1" y="548.8" font-size="10" text-anchor="middle" fill="#fff" >Rest 30 min</text><path d="M79.1,563 L84.3,568 L89.5,563" fill="none" stroke="#4683c6" stroke-width="1.1"/><rect x="44.8" y="568.3" width="80" height="14.9" fill="#fff" stroke="#4683c6" stroke-width="1.1" /><text x="84.8" y="579.5" font-size="10" text-anchor="middle" fill="#3163b4" >Courtship assay</text><rect x="288" y="474.7" width="1" height="5.4" fill="#4d9ff0" stroke="none" stroke-width="1" fill-opacity="0.2"/><rect x="294" y="474.7" width="1" height="5.4" fill="#4d9ff0" stroke="none" stroke-width="1" fill-opacity="0.35"/><rect x="296.5" y="474.7" width="3.5" height="5.4" fill="#4d9ff0" stroke="none" stroke-width="1" fill-opacity="0.75"/><rect x="300" y="474.7" width="1" height="5.4" fill="#4d9ff0" stroke="none" stroke-width="1" fill-opacity="0.45"/><rect x="301" y="474.7" width="5" height="5.4" fill="#4d9ff0" stroke="none" stroke-width="1" fill-opacity="0.75"/><rect x="306" y="474.7" width="1" height="5.4" fill="#4d9ff0" stroke="none" stroke-width="1" fill-opacity="0.45"/><rect x="307" y="474.7" width="5" height="5.4" fill="#4d9ff0" stroke="none" stroke-width="1" fill-opacity="0.75"/><rect x="312" y="474.7" width="1" height="5.4" fill="#4d9ff0" stroke="none" stroke-width="1" fill-opacity="0.5"/><rect x="313" y="474.7" width="5.5" height="5.4" fill="#4d9ff0" stroke="none" stroke-width="1" fill-opacity="0.75"/><rect x="288" y="485.5" width="1" height="5.8" fill="#4d9ff0" stroke="none" stroke-width="1" fill-opacity="0.15"/><rect x="293" y="485.5" width="1.5" height="5.8" fill="#4d9ff0" stroke="none" stroke-width="1" fill-opacity="0.5"/><rect x="296" y="485.5" width="1" height="5.8" fill="#4d9ff0" stroke="none" stroke-width="1" fill-opacity="0.35"/><rect x="298.5" y="485.5" width="1" height="5.8" fill="#4d9ff0" stroke="none" stroke-width="1" fill-opacity="0.35"/><rect x="305.5" y="485.5" width="1" height="5.8" fill="#4d9ff0" stroke="none" stroke-width="1" fill-opacity="0.3"/><rect x="313" y="485.5" width="1" height="5.8" fill="#4d9ff0" stroke="none" stroke-width="1" fill-opacity="0.3"/><rect x="280.5" y="495.9" width="5.5" height="5.1" fill="#4d9ff0" stroke="none" stroke-width="1" fill-opacity="0.75"/><rect x="286" y="495.9" width="1" height="5.1" fill="#4d9ff0" stroke="none" stroke-width="1" fill-opacity="0.45"/><rect x="287" y="495.9" width="3.5" height="5.1" fill="#4d9ff0" stroke="none" stroke-width="1" fill-opacity="0.7"/><rect x="295" y="495.9" width="1" height="5.1" fill="#4d9ff0" stroke="none" stroke-width="1" fill-opacity="0.3"/><rect x="297.5" y="495.9" width="1" height="5.1" fill="#4d9ff0" stroke="none" stroke-width="1" fill-opacity="0.3"/><rect x="299.5" y="495.9" width="1" height="5.1" fill="#4d9ff0" stroke="none" stroke-width="1" fill-opacity="0.35"/><rect x="302" y="495.9" width="1" height="5.1" fill="#4d9ff0" stroke="none" stroke-width="1" fill-opacity="0.35"/><rect x="305.5" y="495.9" width="1" height="5.1" fill="#4d9ff0" stroke="none" stroke-width="1" fill-opacity="0.2"/><rect x="280.2" y="474.3" width="106.7" height="27.1" fill="none" stroke="#b0b0b0" stroke-width="0.9" /><path d="M316.6,471 L320,471 L318.3,473.7 Z" fill="#e3202a"/><rect x="296.5" y="514.4" width="1.5" height="5.4" fill="#4d9ff0" stroke="none" stroke-width="1" fill-opacity="0.7"/><rect x="301.5" y="514.4" width="1" height="5.4" fill="#4d9ff0" stroke="none" stroke-width="1" fill-opacity="0.25"/><rect x="308" y="514.4" width="1" height="5.4" fill="#4d9ff0" stroke="none" stroke-width="1" fill-opacity="0.5"/><rect x="313" y="514.4" width="1" height="5.4" fill="#4d9ff0" stroke="none" stroke-width="1" fill-opacity="0.5"/><rect x="316" y="514.4" width="1" height="5.4" fill="#4d9ff0" stroke="none" stroke-width="1" fill-opacity="0.5"/><rect x="318.5" y="514.4" width="1" height="5.4" fill="#4d9ff0" stroke="none" stroke-width="1" fill-opacity="0.5"/><rect x="320" y="514.4" width="2" height="5.4" fill="#4d9ff0" stroke="none" stroke-width="1" fill-opacity="0.7"/><rect x="322.5" y="514.4" width="2.5" height="5.4" fill="#4d9ff0" stroke="none" stroke-width="1" fill-opacity="0.8"/><rect x="327.5" y="514.4" width="5.5" height="5.4" fill="#4d9ff0" stroke="none" stroke-width="1" fill-opacity="0.7"/><rect x="334.5" y="514.4" width="1" height="5.4" fill="#4d9ff0" stroke="none" stroke-width="1" fill-opacity="0.5"/><rect x="337" y="514.4" width="1" height="5.4" fill="#4d9ff0" stroke="none" stroke-width="1" fill-opacity="0.5"/><rect x="338.5" y="514.4" width="1" height="5.4" fill="#4d9ff0" stroke="none" stroke-width="1" fill-opacity="0.4"/><rect x="340" y="514.4" width="1" height="5.4" fill="#4d9ff0" stroke="none" stroke-width="1" fill-opacity="0.4"/><rect x="344" y="514.4" width="1" height="5.4" fill="#4d9ff0" stroke="none" stroke-width="1" fill-opacity="0.7"/><rect x="294" y="525.2" width="1" height="5.8" fill="#4d9ff0" stroke="none" stroke-width="1" fill-opacity="0.4"/><rect x="295.5" y="525.2" width="1" height="5.8" fill="#4d9ff0" stroke="none" stroke-width="1" fill-opacity="0.4"/><rect x="300" y="525.2" width="2" height="5.8" fill="#4d9ff0" stroke="none" stroke-width="1" fill-opacity="0.45"/><rect x="305" y="525.2" width="1" height="5.8" fill="#4d9ff0" stroke="none" stroke-width="1" fill-opacity="0.35"/><rect x="307.5" y="525.2" width="1" height="5.8" fill="#4d9ff0" stroke="none" stroke-width="1" fill-opacity="0.35"/><rect x="312" y="525.2" width="1" height="5.8" fill="#4d9ff0" stroke="none" stroke-width="1" fill-opacity="0.3"/><rect x="314.5" y="525.2" width="1" height="5.8" fill="#4d9ff0" stroke="none" stroke-width="1" fill-opacity="0.3"/><rect x="317.5" y="525.2" width="1" height="5.8" fill="#4d9ff0" stroke="none" stroke-width="1" fill-opacity="0.25"/><rect x="319.5" y="525.2" width="1" height="5.8" fill="#4d9ff0" stroke="none" stroke-width="1" fill-opacity="0.2"/><rect x="336" y="525.2" width="1" height="5.8" fill="#4d9ff0" stroke="none" stroke-width="1" fill-opacity="0.2"/><rect x="280.5" y="535.6" width="1.5" height="5.6" fill="#4d9ff0" stroke="none" stroke-width="1" fill-opacity="0.6"/><rect x="283.5" y="535.6" width="1" height="5.6" fill="#4d9ff0" stroke="none" stroke-width="1" fill-opacity="0.4"/><rect x="292" y="535.6" width="1" height="5.6" fill="#4d9ff0" stroke="none" stroke-width="1" fill-opacity="0.6"/><rect x="304.5" y="535.6" width="1" height="5.6" fill="#4d9ff0" stroke="none" stroke-width="1" fill-opacity="0.4"/><rect x="309" y="535.6" width="1.5" height="5.6" fill="#4d9ff0" stroke="none" stroke-width="1" fill-opacity="0.6"/><rect x="311.5" y="535.6" width="1" height="5.6" fill="#4d9ff0" stroke="none" stroke-width="1" fill-opacity="0.4"/><rect x="318" y="535.6" width="1" height="5.6" fill="#4d9ff0" stroke="none" stroke-width="1" fill-opacity="0.4"/><rect x="321" y="535.6" width="1" height="5.6" fill="#4d9ff0" stroke="none" stroke-width="1" fill-opacity="0.3"/><rect x="331" y="535.6" width="1" height="5.6" fill="#4d9ff0" stroke="none" stroke-width="1" fill-opacity="0.4"/><rect x="280.2" y="514" width="106.7" height="27.6" fill="none" stroke="#b0b0b0" stroke-width="0.9" /><path d="M342.9,510.7 L346.3,510.7 L344.6,513.4 Z" fill="#e3202a"/><rect x="291" y="552.5" width="4" height="5.4" fill="#4d9ff0" stroke="none" stroke-width="1" fill-opacity="0.7"/><rect x="299.5" y="552.5" width="1" height="5.4" fill="#4d9ff0" stroke="none" stroke-width="1" fill-opacity="0.6"/><rect x="306" y="552.5" width="3" height="5.4" fill="#4d9ff0" stroke="none" stroke-width="1" fill-opacity="0.7"/><rect x="311.5" y="552.5" width="1" height="5.4" fill="#4d9ff0" stroke="none" stroke-width="1" fill-opacity="0.5"/><rect x="315" y="552.5" width="2.5" height="5.4" fill="#4d9ff0" stroke="none" stroke-width="1" fill-opacity="0.7"/><rect x="321" y="552.5" width="1" height="5.4" fill="#4d9ff0" stroke="none" stroke-width="1" fill-opacity="0.5"/><rect x="325" y="552.5" width="3" height="5.4" fill="#4d9ff0" stroke="none" stroke-width="1" fill-opacity="0.7"/><rect x="331.5" y="552.5" width="1" height="5.4" fill="#4d9ff0" stroke="none" stroke-width="1" fill-opacity="0.7"/><rect x="291" y="563.3" width="1" height="5.8" fill="#4d9ff0" stroke="none" stroke-width="1" fill-opacity="0.5"/><rect x="301" y="563.3" width="1" height="5.8" fill="#4d9ff0" stroke="none" stroke-width="1" fill-opacity="0.25"/><rect x="305" y="563.3" width="1.5" height="5.8" fill="#4d9ff0" stroke="none" stroke-width="1" fill-opacity="0.5"/><rect x="312" y="563.3" width="1" height="5.8" fill="#4d9ff0" stroke="none" stroke-width="1" fill-opacity="0.35"/><rect x="315" y="563.3" width="1" height="5.8" fill="#4d9ff0" stroke="none" stroke-width="1" fill-opacity="0.35"/><rect x="321" y="563.3" width="1" height="5.8" fill="#4d9ff0" stroke="none" stroke-width="1" fill-opacity="0.4"/><rect x="280.5" y="573.7" width="4" height="5.3" fill="#4d9ff0" stroke="none" stroke-width="1" fill-opacity="0.7"/><rect x="286.5" y="573.7" width="1" height="5.3" fill="#4d9ff0" stroke="none" stroke-width="1" fill-opacity="0.5"/><rect x="289" y="573.7" width="1" height="5.3" fill="#4d9ff0" stroke="none" stroke-width="1" fill-opacity="0.5"/><rect x="294" y="573.7" width="4" height="5.3" fill="#4d9ff0" stroke="none" stroke-width="1" fill-opacity="0.6"/><rect x="301.5" y="573.7" width="1" height="5.3" fill="#4d9ff0" stroke="none" stroke-width="1" fill-opacity="0.5"/><rect x="303.5" y="573.7" width="1" height="5.3" fill="#4d9ff0" stroke="none" stroke-width="1" fill-opacity="0.4"/><rect x="311" y="573.7" width="1" height="5.3" fill="#4d9ff0" stroke="none" stroke-width="1" fill-opacity="0.35"/><rect x="314" y="573.7" width="1" height="5.3" fill="#4d9ff0" stroke="none" stroke-width="1" fill-opacity="0.35"/><rect x="320.5" y="573.7" width="1" height="5.3" fill="#4d9ff0" stroke="none" stroke-width="1" fill-opacity="0.5"/><rect x="280.2" y="552.1" width="106.7" height="27.3" fill="none" stroke="#b0b0b0" stroke-width="0.9" /><path d="M331.2,548.8 L334.6,548.8 L332.9,551.5 Z" fill="#e3202a"/><rect x="403" y="474" width="1" height="5.4" fill="#4d9ff0" stroke="none" stroke-width="1" fill-opacity="0.3"/><rect x="404.5" y="474" width="2.5" height="5.4" fill="#4d9ff0" stroke="none" stroke-width="1" fill-opacity="0.6"/><rect x="411.5" y="474" width="4.5" height="5.4" fill="#4d9ff0" stroke="none" stroke-width="1" fill-opacity="0.7"/><rect x="420" y="474" width="1" height="5.4" fill="#4d9ff0" stroke="none" stroke-width="1" fill-opacity="0.5"/><rect x="424" y="474" width="1" height="5.4" fill="#4d9ff0" stroke="none" stroke-width="1" fill-opacity="0.6"/><rect x="402.5" y="484.8" width="1" height="5.8" fill="#4d9ff0" stroke="none" stroke-width="1" fill-opacity="0.3"/><rect x="404.5" y="484.8" width="1" height="5.8" fill="#4d9ff0" stroke="none" stroke-width="1" fill-opacity="0.35"/><rect x="407" y="484.8" width="1" height="5.8" fill="#4d9ff0" stroke="none" stroke-width="1" fill-opacity="0.35"/><rect x="411" y="484.8" width="1" height="5.8" fill="#4d9ff0" stroke="none" stroke-width="1" fill-opacity="0.3"/><rect x="418" y="484.8" width="1" height="5.8" fill="#4d9ff0" stroke="none" stroke-width="1" fill-opacity="0.3"/><rect x="419.5" y="484.8" width="1" height="5.8" fill="#4d9ff0" stroke="none" stroke-width="1" fill-opacity="0.3"/><rect x="424" y="484.8" width="1" height="5.8" fill="#4d9ff0" stroke="none" stroke-width="1" fill-opacity="0.2"/><rect x="396" y="495.2" width="1" height="4.6" fill="#4d9ff0" stroke="none" stroke-width="1" fill-opacity="0.59"/><rect x="397" y="495.2" width="0.7" height="4.6" fill="#4d9ff0" stroke="none" stroke-width="1" fill-opacity="0.32"/><rect x="397.7" y="495.2" width="1" height="4.6" fill="#4d9ff0" stroke="none" stroke-width="1" fill-opacity="0.59"/><rect x="398.7" y="495.2" width="0.7" height="4.6" fill="#4d9ff0" stroke="none" stroke-width="1" fill-opacity="0.70"/><rect x="399.4" y="495.2" width="1" height="4.6" fill="#4d9ff0" stroke="none" stroke-width="1" fill-opacity="0.59"/><rect x="400.4" y="495.2" width="0.7" height="4.6" fill="#4d9ff0" stroke="none" stroke-width="1" fill-opacity="0.70"/><rect x="401.1" y="495.2" width="1" height="4.6" fill="#4d9ff0" stroke="none" stroke-width="1" fill-opacity="0.59"/><rect x="402.1" y="495.2" width="0.7" height="4.6" fill="#4d9ff0" stroke="none" stroke-width="1" fill-opacity="0.59"/><rect x="402.8" y="495.2" width="1" height="4.6" fill="#4d9ff0" stroke="none" stroke-width="1" fill-opacity="0.59"/><rect x="403.8" y="495.2" width="0.2" height="4.6" fill="#4d9ff0" stroke="none" stroke-width="1" fill-opacity="0.70"/><rect x="410.5" y="495.2" width="1" height="4.6" fill="#4d9ff0" stroke="none" stroke-width="1" fill-opacity="0.4"/><rect x="419.5" y="495.2" width="1" height="4.6" fill="#4d9ff0" stroke="none" stroke-width="1" fill-opacity="0.3"/><rect x="423.5" y="495.2" width="1" height="4.6" fill="#4d9ff0" stroke="none" stroke-width="1" fill-opacity="0.3"/><rect x="395.4" y="473.6" width="106" height="26.6" fill="none" stroke="#b0b0b0" stroke-width="0.9" /><path d="M423,470.3 L426.4,470.3 L424.7,473 Z" fill="#e3202a"/><rect x="407.5" y="514" width="3.5" height="5.4" fill="#4d9ff0" stroke="none" stroke-width="1" fill-opacity="0.75"/><rect x="413.5" y="514" width="2" height="5.4" fill="#4d9ff0" stroke="none" stroke-width="1" fill-opacity="0.6"/><rect x="417.5" y="514" width="1" height="5.4" fill="#4d9ff0" stroke="none" stroke-width="1" fill-opacity="0.65"/><rect x="406" y="524.8" width="1" height="5.8" fill="#4d9ff0" stroke="none" stroke-width="1" fill-opacity="0.3"/><rect x="412.5" y="524.8" width="1" height="5.8" fill="#4d9ff0" stroke="none" stroke-width="1" fill-opacity="0.3"/><rect x="415.5" y="524.8" width="1" height="5.8" fill="#4d9ff0" stroke="none" stroke-width="1" fill-opacity="0.3"/><rect x="396" y="535.2" width="1" height="6" fill="#4d9ff0" stroke="none" stroke-width="1" fill-opacity="0.62"/><rect x="397" y="535.2" width="0.7" height="6" fill="#4d9ff0" stroke="none" stroke-width="1" fill-opacity="0.55"/><rect x="397.7" y="535.2" width="1" height="6" fill="#4d9ff0" stroke="none" stroke-width="1" fill-opacity="0.62"/><rect x="398.7" y="535.2" width="1" height="6" fill="#4d9ff0" stroke="none" stroke-width="1" fill-opacity="0.39"/><rect x="399.7" y="535.2" width="1.3" height="6" fill="#4d9ff0" stroke="none" stroke-width="1" fill-opacity="0.65"/><rect x="401" y="535.2" width="1" height="6" fill="#4d9ff0" stroke="none" stroke-width="1" fill-opacity="0.65"/><rect x="402" y="535.2" width="0.7" height="6" fill="#4d9ff0" stroke="none" stroke-width="1" fill-opacity="0.65"/><rect x="402.7" y="535.2" width="0.7" height="6" fill="#4d9ff0" stroke="none" stroke-width="1" fill-opacity="0.65"/><rect x="403.4" y="535.2" width="1" height="6" fill="#4d9ff0" stroke="none" stroke-width="1" fill-opacity="0.55"/><rect x="404.4" y="535.2" width="1" height="6" fill="#4d9ff0" stroke="none" stroke-width="1" fill-opacity="0.39"/><rect x="405.4" y="535.2" width="0.7" height="6" fill="#4d9ff0" stroke="none" stroke-width="1" fill-opacity="0.29"/><rect x="406.1" y="535.2" width="0.7" height="6" fill="#4d9ff0" stroke="none" stroke-width="1" fill-opacity="0.65"/><rect x="406.8" y="535.2" width="0.7" height="6" fill="#4d9ff0" stroke="none" stroke-width="1" fill-opacity="0.39"/><rect x="407.5" y="535.2" width="0.5" height="6" fill="#4d9ff0" stroke="none" stroke-width="1" fill-opacity="0.55"/><rect x="412.5" y="535.2" width="1" height="6" fill="#4d9ff0" stroke="none" stroke-width="1" fill-opacity="0.3"/><rect x="415.5" y="535.2" width="1" height="6" fill="#4d9ff0" stroke="none" stroke-width="1" fill-opacity="0.3"/><rect x="395.4" y="513.6" width="106" height="28" fill="none" stroke="#b0b0b0" stroke-width="0.9" /><path d="M416.8,510.3 L420.2,510.3 L418.5,513 Z" fill="#e3202a"/><rect x="421" y="552.2" width="1" height="5.4" fill="#4d9ff0" stroke="none" stroke-width="1" fill-opacity="0.5"/><rect x="423" y="552.2" width="4" height="5.4" fill="#4d9ff0" stroke="none" stroke-width="1" fill-opacity="0.7"/><rect x="430" y="552.2" width="1.5" height="5.4" fill="#4d9ff0" stroke="none" stroke-width="1" fill-opacity="0.6"/><rect x="435" y="552.2" width="1" height="5.4" fill="#4d9ff0" stroke="none" stroke-width="1" fill-opacity="0.6"/><rect x="438.5" y="552.2" width="4" height="5.4" fill="#4d9ff0" stroke="none" stroke-width="1" fill-opacity="0.7"/><rect x="446.5" y="552.2" width="2" height="5.4" fill="#4d9ff0" stroke="none" stroke-width="1" fill-opacity="0.65"/><rect x="452.5" y="552.2" width="1" height="5.4" fill="#4d9ff0" stroke="none" stroke-width="1" fill-opacity="0.55"/><rect x="420.5" y="563" width="3" height="5.8" fill="#4d9ff0" stroke="none" stroke-width="1" fill-opacity="0.2"/><rect x="429" y="563" width="1" height="5.8" fill="#4d9ff0" stroke="none" stroke-width="1" fill-opacity="0.2"/><rect x="431.5" y="563" width="1" height="5.8" fill="#4d9ff0" stroke="none" stroke-width="1" fill-opacity="0.25"/><rect x="434" y="563" width="1" height="5.8" fill="#4d9ff0" stroke="none" stroke-width="1" fill-opacity="0.25"/><rect x="437" y="563" width="1" height="5.8" fill="#4d9ff0" stroke="none" stroke-width="1" fill-opacity="0.2"/><rect x="445.5" y="563" width="1" height="5.8" fill="#4d9ff0" stroke="none" stroke-width="1" fill-opacity="0.3"/><rect x="452" y="563" width="1" height="5.8" fill="#4d9ff0" stroke="none" stroke-width="1" fill-opacity="0.3"/><rect x="397" y="573.4" width="0.7" height="5.6" fill="#4d9ff0" stroke="none" stroke-width="1" fill-opacity="0.42"/><rect x="397.7" y="573.4" width="1.3" height="5.6" fill="#4d9ff0" stroke="none" stroke-width="1" fill-opacity="0.32"/><rect x="399" y="573.4" width="1.3" height="5.6" fill="#4d9ff0" stroke="none" stroke-width="1" fill-opacity="0.59"/><rect x="400.3" y="573.4" width="1.3" height="5.6" fill="#4d9ff0" stroke="none" stroke-width="1" fill-opacity="0.32"/><rect x="401.6" y="573.4" width="0.7" height="5.6" fill="#4d9ff0" stroke="none" stroke-width="1" fill-opacity="0.42"/><rect x="402.3" y="573.4" width="1" height="5.6" fill="#4d9ff0" stroke="none" stroke-width="1" fill-opacity="0.66"/><rect x="403.3" y="573.4" width="1.3" height="5.6" fill="#4d9ff0" stroke="none" stroke-width="1" fill-opacity="0.32"/><rect x="404.6" y="573.4" width="1" height="5.6" fill="#4d9ff0" stroke="none" stroke-width="1" fill-opacity="0.66"/><rect x="405.6" y="573.4" width="0.7" height="5.6" fill="#4d9ff0" stroke="none" stroke-width="1" fill-opacity="0.42"/><rect x="406.3" y="573.4" width="0.7" height="5.6" fill="#4d9ff0" stroke="none" stroke-width="1" fill-opacity="0.59"/><rect x="407" y="573.4" width="1" height="5.6" fill="#4d9ff0" stroke="none" stroke-width="1" fill-opacity="0.59"/><rect x="408" y="573.4" width="0.7" height="5.6" fill="#4d9ff0" stroke="none" stroke-width="1" fill-opacity="0.59"/><rect x="408.7" y="573.4" width="1" height="5.6" fill="#4d9ff0" stroke="none" stroke-width="1" fill-opacity="0.66"/><rect x="409.7" y="573.4" width="1.3" height="5.6" fill="#4d9ff0" stroke="none" stroke-width="1" fill-opacity="0.42"/><rect x="413.5" y="573.4" width="1" height="5.6" fill="#4d9ff0" stroke="none" stroke-width="1" fill-opacity="0.5"/><rect x="417.5" y="573.4" width="1" height="5.6" fill="#4d9ff0" stroke="none" stroke-width="1" fill-opacity="0.5"/><rect x="420" y="573.4" width="3" height="5.6" fill="#4d9ff0" stroke="none" stroke-width="1" fill-opacity="0.4"/><rect x="428" y="573.4" width="1" height="5.6" fill="#4d9ff0" stroke="none" stroke-width="1" fill-opacity="0.09"/><rect x="429" y="573.4" width="1" height="5.6" fill="#4d9ff0" stroke="none" stroke-width="1" fill-opacity="0.12"/><rect x="430" y="573.4" width="1" height="5.6" fill="#4d9ff0" stroke="none" stroke-width="1" fill-opacity="0.20"/><rect x="431" y="573.4" width="1" height="5.6" fill="#4d9ff0" stroke="none" stroke-width="1" fill-opacity="0.17"/><rect x="432" y="573.4" width="1.3" height="5.6" fill="#4d9ff0" stroke="none" stroke-width="1" fill-opacity="0.09"/><rect x="433.3" y="573.4" width="1.3" height="5.6" fill="#4d9ff0" stroke="none" stroke-width="1" fill-opacity="0.20"/><rect x="434.6" y="573.4" width="0.7" height="5.6" fill="#4d9ff0" stroke="none" stroke-width="1" fill-opacity="0.09"/><rect x="435.3" y="573.4" width="0.7" height="5.6" fill="#4d9ff0" stroke="none" stroke-width="1" fill-opacity="0.12"/><rect x="445.5" y="573.4" width="1" height="5.6" fill="#4d9ff0" stroke="none" stroke-width="1" fill-opacity="0.3"/><rect x="452" y="573.4" width="1" height="5.6" fill="#4d9ff0" stroke="none" stroke-width="1" fill-opacity="0.2"/><rect x="395.4" y="551.8" width="106" height="27.6" fill="none" stroke="#b0b0b0" stroke-width="0.9" /><path d="M451.5,548.5 L454.9,548.5 L453.2,551.2 Z" fill="#e3202a"/><line x1="300.5" y1="558.5" x2="400" y2="558.5" stroke="#e6eee8" stroke-width="0.7" /><text x="274.4" y="479.7" font-size="8.7" text-anchor="end" fill="#222" >Intromission</text><text x="274.4" y="490.7" font-size="8.7" text-anchor="end" fill="#222" >Mounting</text><text x="274.4" y="501.2" font-size="8.7" text-anchor="end" fill="#222" >Sniffing</text><text x="274.4" y="519.4" font-size="8.7" text-anchor="end" fill="#222" >Intromission</text><text x="274.4" y="530.4" font-size="8.7" text-anchor="end" fill="#222" >Mounting</text><text x="274.4" y="540.9" font-size="8.7" text-anchor="end" fill="#222" >Sniffing</text><text x="274.4" y="557.5" font-size="8.7" text-anchor="end" fill="#222" >Intromission</text><text x="274.4" y="568.5" font-size="8.7" text-anchor="end" fill="#222" >Mounting</text><text x="274.4" y="579" font-size="8.7" text-anchor="end" fill="#222" >Sniffing</text><g fill="none" stroke="#8a8a8a" stroke-width="0.75"><circle cx="314.6" cy="448.8" r="2.3"/><path d="M314.6,451.1 L314.6,454.8 M312.4,452.4 L316.8,452.4"/></g><text x="320.5" y="452.9" font-size="8.7" text-anchor="start" fill="#222" >Optimal+</text><g fill="none" stroke="#8a8a8a" stroke-width="0.75"><circle cx="280.3" cy="461.2" r="2.4"/><path d="M282,459.5 L284.1,457.4 M282,457.3 L284.2,457.3 L284.2,459.5"/></g><text x="286.7" y="462.4" font-size="8.7" text-anchor="start" fill="#222" >Injected with testosterone</text><g fill="none" stroke="#8a8a8a" stroke-width="0.75"><circle cx="434.6" cy="448.8" r="2.3"/><path d="M434.6,451.1 L434.6,454.8 M432.4,452.4 L436.8,452.4"/></g><text x="439.6" y="452.9" font-size="8.7" text-anchor="start" fill="#222" >Aged+</text><g fill="none" stroke="#8a8a8a" stroke-width="0.75"><circle cx="395.1" cy="461.2" r="2.4"/><path d="M396.8,459.5 L398.9,457.4 M396.8,457.3 L399,457.3 L399,459.5"/></g><text x="401" y="462.4" font-size="8.7" text-anchor="start" fill="#222" >Injected with testosterone</text><text x="280.2" y="590.3" font-size="8.7" text-anchor="middle" fill="#222" >0</text><text x="333.6" y="590.3" font-size="8.7" text-anchor="middle" fill="#222" >Time (min)</text><text x="384.2" y="590.3" font-size="8.7" text-anchor="middle" fill="#222" >30</text><text x="395.5" y="590.3" font-size="8.7" text-anchor="middle" fill="#222" >0</text><text x="449.4" y="590.3" font-size="8.7" text-anchor="middle" fill="#222" >Time (min)</text><text x="500.3" y="590.3" font-size="8.7" text-anchor="middle" fill="#222" >30</text><path d="M278.5,600.4 L282.7,600.4 L280.6,603.6 Z" fill="#e3202a"/><text x="288.4" y="605" font-size="8.7" text-anchor="start" fill="#222" >Ejaculation</text>
</svg></body></html>
